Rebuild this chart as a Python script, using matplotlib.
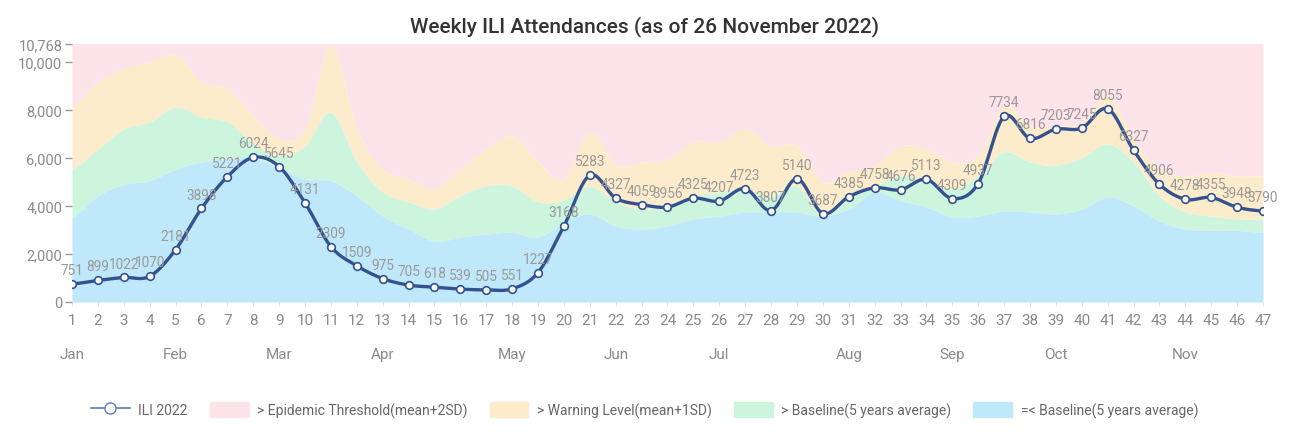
import numpy as np
import matplotlib
matplotlib.use('Agg')
import matplotlib.pyplot as plt
import matplotlib.ticker as mticker
from matplotlib.patches import Patch
from matplotlib.lines import Line2D
from matplotlib.transforms import blended_transform_factory

plt.rcParams['font.family'] = ['Roboto', 'DejaVu Sans']

# ============================================================
# Data
# ============================================================
weeks = list(range(1, 48))

ili_2022 = [751, 899, 1022, 1070, 2181, 3898, 5221, 6024, 5645, 4131,
            2309, 1509, 975, 705, 618, 539, 505, 551, 1227, 3168,
            5283, 4327, 4059, 3956, 4325, 4207, 4723, 3807, 5140, 3687,
            4385, 4758, 4676, 5113, 4309, 4937, 7734, 6816, 7203, 7245,
            8055, 6327, 4906, 4278, 4355, 3948, 3790]

# 5-year baseline (top of blue band)
baseline = [3540, 4420, 4900, 5050, 5540, 5830, 5960, 6000, 5600, 5125,
            5050, 4420, 3580, 3040, 2540, 2700, 2830, 2900, 2700, 3330,
            3670, 3170, 3040, 3170, 3460, 3580, 3750, 3750, 3750, 3580,
            3875, 4580, 4210, 3960, 3540, 3580, 3790, 3750, 3670, 3870,
            4370, 4000, 3370, 3040, 2980, 2980, 2900]

# mean + 1SD (top of green band)
warning_level = [5540, 6375, 7210, 7500, 8125, 7700, 7500, 6600, 6100, 6500,
                 7900, 5830, 4580, 4170, 3875, 4420, 4830, 4830, 4170, 4250,
                 4830, 4170, 3875, 4000, 4420, 4580, 4700, 4420, 4830, 3580,
                 4420, 4830, 5250, 5050, 4700, 5250, 6250, 5830, 5700, 6000,
                 6580, 5830, 4420, 3750, 3580, 3460, 3460]

# mean + 2SD (top of orange band)
epidemic_threshold = [8170, 9170, 9710, 10000, 10300, 9170, 8875, 7750, 6800, 7200,
                      10700, 7200, 5540, 5125, 4700, 5540, 6375, 6920, 5830, 5125,
                      7080, 5700, 5830, 5960, 6670, 6670, 7200, 6500, 6500, 5000,
                      5420, 5670, 6500, 6375, 5830, 6100, 8170, 7330, 7330, 7500,
                      8580, 6800, 5540, 5250, 5400, 5250, 5250]

y_max = 10768
y_ticks = [0, 2000, 4000, 6000, 8000, 10000, 10768]

months = ['Jan', 'Feb', 'Mar', 'Apr', 'May', 'Jun', 'Jul', 'Aug', 'Sep', 'Oct', 'Nov']
month_weeks = [1, 5, 9, 13, 18, 22, 26, 31, 35, 39, 44]

C_PINK = '#fde3ea'
C_ORANGE = '#fdeccb'
C_GREEN = '#cdf5dd'
C_BLUE = '#c0e8fb'
C_LINE = '#34528f'
C_TEXT = '#8a8a8a'


# smooth display curve through the points (Catmull-Rom), like the source chart
def smooth(x, y, n=12):
    x = np.asarray(x, float)
    y = np.asarray(y, float)
    xp = np.concatenate([[2 * x[0] - x[1]], x, [2 * x[-1] - x[-2]]])
    yp = np.concatenate([[y[0]], y, [y[-1]]])
    xs, ys = [], []
    t = np.linspace(0, 1, n, endpoint=False)
    for i in range(1, len(xp) - 2):
        p0, p1, p2, p3 = yp[i - 1], yp[i], yp[i + 1], yp[i + 2]
        ys.append(0.5 * ((2 * p1) + (-p0 + p2) * t + (2 * p0 - 5 * p1 + 4 * p2 - p3) * t ** 2
                         + (-p0 + 3 * p1 - 3 * p2 + p3) * t ** 3))
        xs.append(xp[i] + (xp[i + 1] - xp[i]) * t)
    xs.append([x[-1]])
    ys.append([y[-1]])
    return np.concatenate(xs), np.concatenate(ys)


fig = plt.figure(figsize=(12.89, 4.35), dpi=100)
ax = fig.add_axes([72 / 1289, 132 / 435, (1263 - 72) / 1289, (303 - 44.6) / 435])

xs, base_s = smooth(weeks, baseline)
_, warn_s = smooth(weeks, warning_level)
_, epi_s = smooth(weeks, epidemic_threshold)
_, ili_s = smooth(weeks, ili_2022)

ax.fill_between(xs, epi_s, y_max, color=C_PINK, lw=0)
ax.fill_between(xs, warn_s, epi_s, color=C_ORANGE, lw=0)
ax.fill_between(xs, base_s, warn_s, color=C_GREEN, lw=0)
ax.fill_between(xs, 0, base_s, color=C_BLUE, lw=0)

ax.plot(xs, ili_s, color=C_LINE, lw=2.4, zorder=3)
ax.plot(weeks, ili_2022, ls='none', marker='o', ms=5.5, mfc='white', mec=C_LINE, mew=1.2, zorder=4)

for w, v in zip(weeks, ili_2022):
    ax.annotate(str(v), (w, v), xytext=(0, 5), textcoords='offset points',
                ha='center', va='bottom', fontsize=9.8, color='#999999', zorder=5)

ax.set_xlim(1, 47)
ax.set_ylim(0, y_max)
ax.set_xticks(weeks)
ax.set_yticks(y_ticks)
ax.yaxis.set_major_formatter(mticker.FuncFormatter(lambda v, p: f'{int(v):,}'))
ax.tick_params(axis='y', length=5, width=1, color='#999999', labelcolor=C_TEXT, labelsize=10.5, pad=2)
ax.tick_params(axis='x', length=3, width=0.6, color='#dddddd', labelcolor=C_TEXT, labelsize=11, pad=5)
for s in ax.spines.values():
    s.set_visible(False)

# month labels under week numbers
trans = blended_transform_factory(ax.transData, ax.transAxes)
for m, w in zip(months, month_weeks):
    ax.text(w, -0.2, m, transform=trans, ha='center', va='center', fontsize=11, color=C_TEXT)

fig.text(0.5, 0.94, 'Weekly ILI Attendances (as of 26 November 2022)', ha='center', va='center',
         fontsize=15, fontweight='medium', color='#333333')

handles = [
    Line2D([], [], color='#5b7fc0', lw=1.2, marker='o', ms=8, mfc='white', mec='#5b7fc0'),
    Patch(color=C_PINK),
    Patch(color=C_ORANGE),
    Patch(color=C_GREEN),
    Patch(color=C_BLUE),
]
labels = ['ILI 2022', '> Epidemic Threshold(mean+2SD)', '> Warning Level(mean+1SD)',
          '> Baseline(5 years average)', '=< Baseline(5 years average)']
fig.legend(handles, labels, loc='center', bbox_to_anchor=(0.5, 24 / 435), ncol=5, frameon=False,
           fontsize=10, labelcolor='#666666', handlelength=2.8, handleheight=1.2,
           columnspacing=1.6, handletextpad=0.6)

fig.savefig('out.png', dpi=100)
